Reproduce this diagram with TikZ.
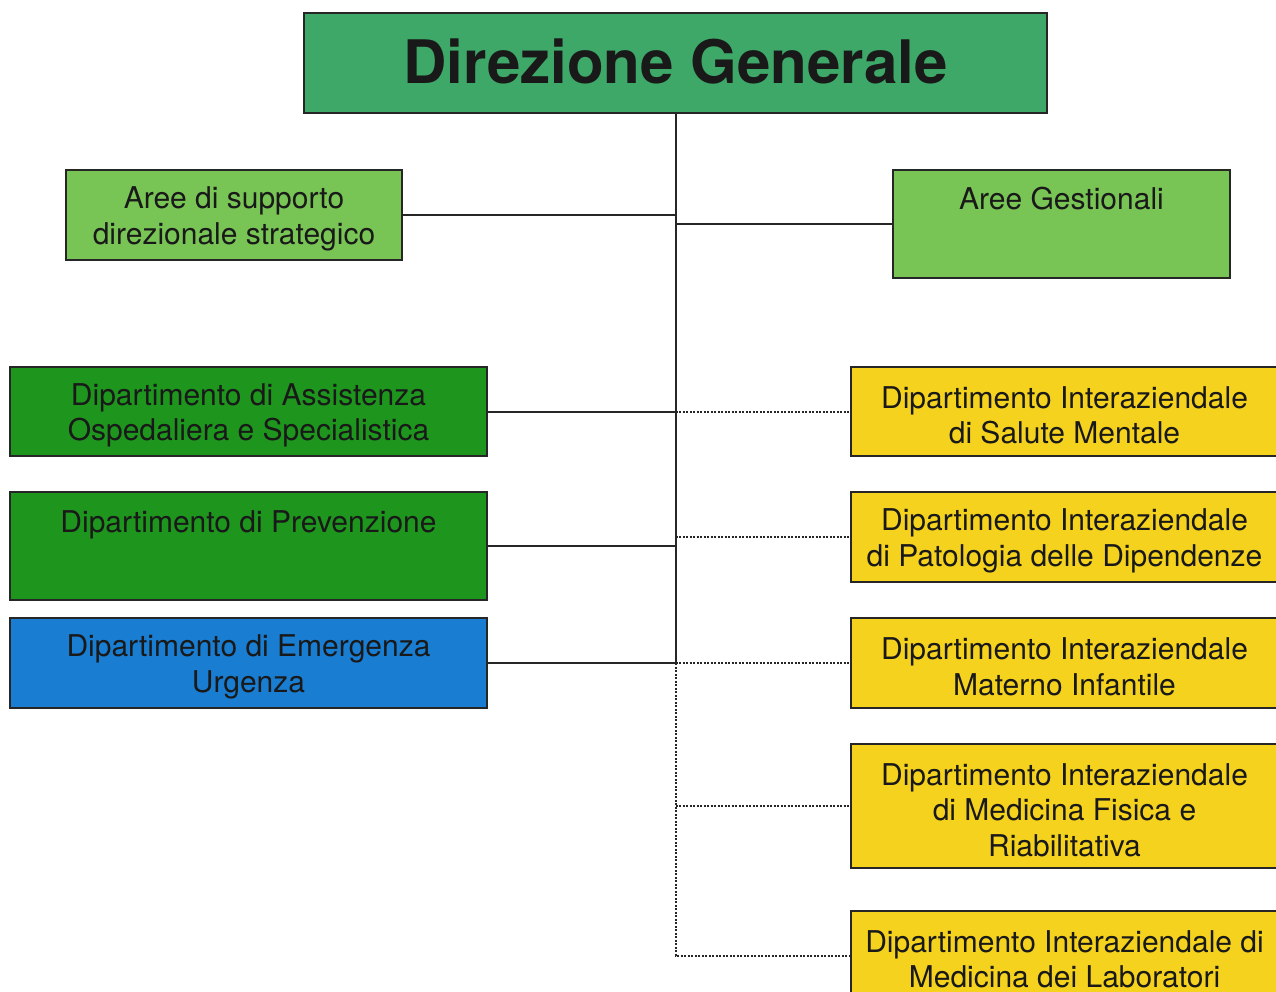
\documentclass[tikz,border=0pt]{standalone}
\usepackage{fontspec}
\setmainfont{TeX Gyre Heros}
\begin{document}
\begin{tikzpicture}[x=1pt,y=-1pt,
  box/.style={draw=black!85, line width=2pt, anchor=north west, inner sep=0pt, outer sep=0pt},
  txt/.style={align=center, font=\fontsize{30}{35.5}\selectfont, text=black!90, inner sep=0pt},
  conn/.style={line width=2pt, black!85},
  dotconn/.style={line width=2pt, black!85, dash pattern=on 2pt off 1.5pt},
]
\definecolor{dgreen}{HTML}{3DA868}
\definecolor{lgreen}{HTML}{78C455}
\definecolor{kgreen}{HTML}{1E961E}
\definecolor{bblue}{HTML}{197DD2}
\definecolor{yyellow}{HTML}{F5D21E}
\useasboundingbox (0,0) rectangle (1276,992);
\fill[white] (0,0) rectangle (1276,992);

% boxes
\node[box, fill=dgreen, minimum width=743pt, minimum height=100pt] (dg) at (304,13) {};
\node[align=center, font=\fontsize{60}{70}\selectfont\bfseries, text=black!90, inner sep=0pt] (dgt) at ([yshift=1pt]dg.center) {Direzione Generale};

\node[box, fill=lgreen, minimum width=336pt, minimum height=90pt] (asds) at (66,170) {};
\node[txt] (asdst) at ([yshift=-4pt]asds.center) {Aree di supporto\\direzionale strategico};

\node[box, fill=lgreen, minimum width=337pt, minimum height=108pt] (ag) at (893,170) {};
\node[txt, anchor=base] (agt) at ([yshift=-40pt]ag.north) {Aree Gestionali};

\node[box, fill=kgreen, minimum width=477pt, minimum height=89pt] (d1) at (10,367) {};
\node[txt] (d1t) at ([yshift=-4pt]d1.center) {Dipartimento di Assistenza\\Ospedaliera e Specialistica};

\node[box, fill=kgreen, minimum width=477pt, minimum height=108pt] (d2) at (10,492) {};
\node[txt, anchor=base] (d2t) at ([yshift=-40pt]d2.north) {Dipartimento di Prevenzione};

\node[box, fill=bblue, minimum width=477pt, minimum height=90pt] (d3) at (10,618) {};
\node[txt] (d3t) at ([yshift=-4pt]d3.center) {Dipartimento di Emergenza\\Urgenza};

\node[box, fill=yyellow, minimum width=427pt, minimum height=89pt] (y1) at (851,367) {};
\node[txt] (y1t) at ([yshift=-4pt]y1.center) {Dipartimento Interaziendale\\di Salute Mentale};

\node[box, fill=yyellow, minimum width=427pt, minimum height=90pt] (y2) at (851,492) {};
\node[txt] (y2t) at ([yshift=-4pt]y2.center) {Dipartimento Interaziendale\\di Patologia delle Dipendenze};

\node[box, fill=yyellow, minimum width=427pt, minimum height=90pt] (y3) at (851,618) {};
\node[txt] (y3t) at ([yshift=-4pt]y3.center) {Dipartimento Interaziendale\\Materno Infantile};

\node[box, fill=yyellow, minimum width=427pt, minimum height=124pt] (y4) at (851,744) {};
\node[txt] (y4t) at ([yshift=-4pt]y4.center) {Dipartimento Interaziendale\\di Medicina Fisica e\\Riabilitativa};

\node[box, fill=yyellow, minimum width=427pt, minimum height=89pt] (y5) at (851,911) {};
\node[txt] (y5t) at ([yshift=-4pt]y5.center) {Dipartimento Interaziendale di\\Medicina dei Laboratori};

% connectors
\coordinate (tsol) at (d3.east -| dg.south);
\coordinate (tend) at (y5.west -| dg.south);
\draw[conn] (dg.south) -- (tsol);
\draw[conn] (asds.east) -- (asds.east -| dg.south);
\draw[conn] (ag.west) -- (ag.west -| dg.south);
\draw[conn] (d1.east) -- (d1.east -| dg.south);
\draw[conn] (d2.east) -- (d2.east -| dg.south);
\draw[conn] (d3.east) -- (tsol);
\draw[dotconn] (tsol) -- (tend) -- (y5.west);
\draw[dotconn] (y1.west -| dg.south) -- (y1.west);
\draw[dotconn] (y2.west -| dg.south) -- (y2.west);
\draw[dotconn] (y3.west -| dg.south) -- (y3.west);
\draw[dotconn] (y4.west -| dg.south) -- (y4.west);
\end{tikzpicture}
\end{document}
